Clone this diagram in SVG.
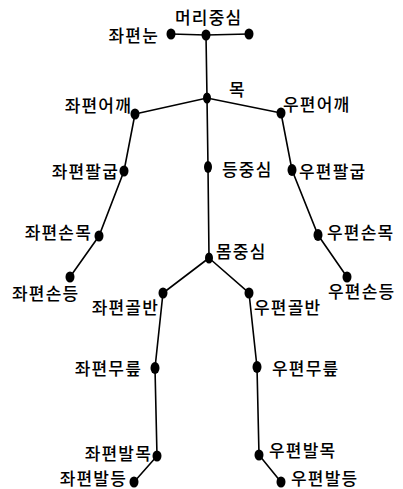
<svg xmlns="http://www.w3.org/2000/svg" width="403" height="489" viewBox="0 0 403 489">
<style>
.l{stroke:#000;stroke-width:1.6;fill:none}
.d{fill:#000}
text{font-family:"Noto Sans CJK KR","Noto Sans",sans-serif;font-size:17px;font-weight:500;fill:#000;letter-spacing:1.2px;dominant-baseline:central}
.e{text-anchor:end}
</style>
<rect width="403" height="489" fill="#fff"/>
<g id="connectors">
<polyline class="l" points="171,34 206,35 249,34"/>
<polyline class="l" points="206,35 207,98 208,167 209,258"/>
<polyline class="l" points="135,114 207,98 281,113"/>
<polyline class="l" points="135,114 124,171 99,236 70,277"/>
<polyline class="l" points="281,113 292,170 318,235 347,277"/>
<polyline class="l" points="209,258 163,293 155,368 157,456 134,482"/>
<polyline class="l" points="209,258 249,293 257,367 259,455 281,482"/>
</g>
<g id="n-lefteye"><ellipse class="d" cx="171" cy="34" rx="4.5" ry="5.5"/><text class="e" x="159" y="34">좌편눈</text></g>
<g id="n-head"><ellipse class="d" cx="206" cy="35" rx="4.5" ry="5.5"/><text x="175" y="16">머리중심</text></g>
<g id="n-righteye"><ellipse class="d" cx="249" cy="34" rx="4.5" ry="5.5"/></g>
<g id="n-neck"><ellipse class="d" cx="207" cy="98" rx="4" ry="5.5"/><text x="229" y="88">목</text></g>
<g id="n-lshoulder"><ellipse class="d" cx="135" cy="114" rx="4.5" ry="5.5"/><text class="e" x="132" y="104">좌편어깨</text></g>
<g id="n-rshoulder"><ellipse class="d" cx="281" cy="113" rx="4.5" ry="5.5"/><text x="283" y="103">우편어깨</text></g>
<g id="n-back"><ellipse class="d" cx="208" cy="167" rx="4" ry="6"/><text x="222" y="168">등중심</text></g>
<g id="n-lelbow"><ellipse class="d" cx="124" cy="171" rx="4.5" ry="5.5"/><text class="e" x="119" y="170">좌편팔굽</text></g>
<g id="n-relbow"><ellipse class="d" cx="292" cy="170" rx="4.5" ry="6"/><text x="299" y="170">우편팔굽</text></g>
<g id="n-lwrist"><ellipse class="d" cx="99" cy="236" rx="4.5" ry="5.5"/><text class="e" x="92" y="231">좌편손목</text></g>
<g id="n-rwrist"><ellipse class="d" cx="318" cy="235" rx="4.5" ry="6"/><text x="327" y="231">우편손목</text></g>
<g id="n-lhand"><ellipse class="d" cx="70" cy="277" rx="4.5" ry="5.5"/><text x="12" y="292">좌편손등</text></g>
<g id="n-rhand"><ellipse class="d" cx="347" cy="277" rx="4.5" ry="5.5"/><text x="328" y="290">우편손등</text></g>
<g id="n-body"><ellipse class="d" cx="209" cy="258" rx="4" ry="5.5"/><text x="216" y="250">몸중심</text></g>
<g id="n-lhip"><ellipse class="d" cx="163" cy="293" rx="4.5" ry="5.5"/><text class="e" x="159" y="306">좌편골반</text></g>
<g id="n-rhip"><ellipse class="d" cx="249" cy="293" rx="4.5" ry="5.5"/><text x="254" y="306">우편골반</text></g>
<g id="n-lknee"><ellipse class="d" cx="155" cy="368" rx="4.5" ry="6"/><text class="e" x="142" y="367">좌편무릎</text></g>
<g id="n-rknee"><ellipse class="d" cx="257" cy="367" rx="4.5" ry="6"/><text x="272" y="367">우편무릎</text></g>
<g id="n-lankle"><ellipse class="d" cx="157" cy="456" rx="4.5" ry="5.5"/><text class="e" x="152" y="452">좌편발목</text></g>
<g id="n-rankle"><ellipse class="d" cx="259" cy="455" rx="4.5" ry="5.5"/><text x="269" y="449">우편발목</text></g>
<g id="n-lfoot"><ellipse class="d" cx="134" cy="482" rx="4.5" ry="5.5"/><text class="e" x="127" y="477">좌편발등</text></g>
<g id="n-rfoot"><ellipse class="d" cx="281" cy="482" rx="4.5" ry="5.5"/><text x="291" y="477">우편발등</text></g>
</svg>
